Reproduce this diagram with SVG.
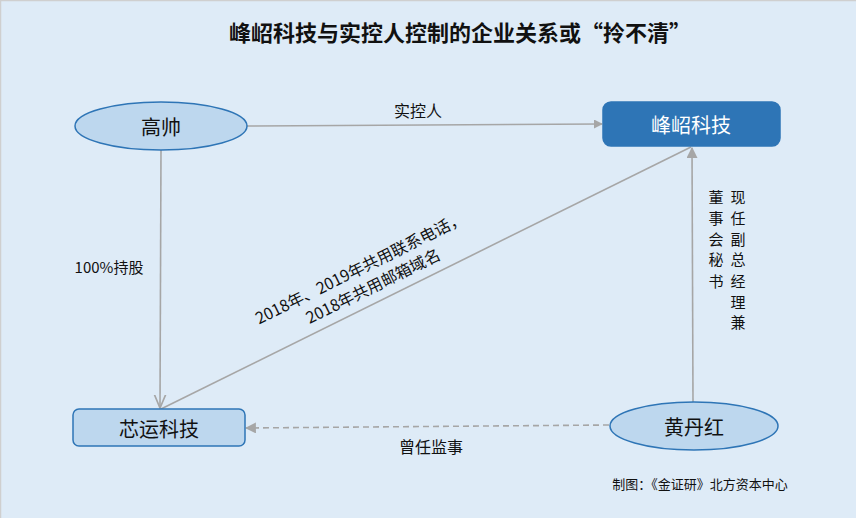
<svg xmlns="http://www.w3.org/2000/svg" width="856" height="518" viewBox="0 0 856 518">
<defs>
<style>
text{font-family:"Noto Sans CJK SC","Liberation Sans",sans-serif;fill:#111;}
.lbl{font-size:15px;}
.node-l{fill:#BDD7EE;stroke:#2E75B6;stroke-width:1.5;}
.node-d{fill:#2E75B6;stroke:#2E75B6;stroke-width:1.5;}
.nt{font-size:20px;text-anchor:middle;dominant-baseline:central;}
.edge{stroke:#A6A6A6;stroke-width:1.6;fill:none;}
</style>
<marker id="tri" viewBox="0 0 10 10" refX="9" refY="5" markerWidth="9" markerHeight="9" markerUnits="userSpaceOnUse" orient="auto"><path d="M0,0 L10,5 L0,10 z" fill="#A6A6A6"/></marker>
<marker id="tri2" viewBox="0 0 10 10" refX="9" refY="5" markerWidth="11" markerHeight="11" markerUnits="userSpaceOnUse" orient="auto"><path d="M0,0 L10,5 L0,10 z" fill="#A6A6A6"/></marker>
<marker id="open" viewBox="0 0 10 10" refX="9.5" refY="5" markerWidth="14" markerHeight="14" markerUnits="userSpaceOnUse" orient="auto"><path d="M0,1 L9.5,5 L0,9" fill="none" stroke="#A6A6A6" stroke-width="1.2"/></marker>
</defs>
<rect x="0" y="0" width="856" height="518" fill="#DEEBF7"/>
<path d="M0.5,518 V0.5 H856" fill="none" stroke="#CFCFCF" stroke-width="1.5"/>
<text x="460" y="41" font-size="22" font-weight="bold" text-anchor="middle">峰岹科技与实控人控制的企业关系或“拎不清”</text>
<g id="edges">
<line class="edge" x1="247" y1="126" x2="602" y2="124" marker-end="url(#tri)"/>
<line class="edge" x1="161" y1="150" x2="160" y2="408" marker-end="url(#open)"/>
<line class="edge" x1="161" y1="409" x2="691" y2="147"/>
<line class="edge" x1="693" y1="402" x2="692" y2="148" marker-end="url(#tri2)"/>
<line class="edge" x1="609" y1="425" x2="246" y2="428" stroke-dasharray="6,4" stroke-width="2" marker-end="url(#tri2)"/>
<text x="418" y="117" font-size="16" text-anchor="middle">实控人</text>
<text x="109" y="273" class="lbl" text-anchor="middle">100%持股</text>
<text x="431" y="453" font-size="16" text-anchor="middle">曾任监事</text>
<text transform="translate(360 268) rotate(-26.3)" x="0" y="6" font-size="16" text-anchor="middle">2018年、2019年共用联系电话，</text>
<text transform="translate(373 286) rotate(-26.3)" x="0" y="6" font-size="16" text-anchor="middle">2018年共用邮箱域名</text>
<g class="lbl" text-anchor="middle">
<text x="738" y="203">现</text><text x="738" y="224">任</text><text x="738" y="245">副</text><text x="738" y="265">总</text><text x="738" y="287">经</text><text x="738" y="308">理</text><text x="738" y="328">兼</text>
<text x="716" y="203">董</text><text x="716" y="224">事</text><text x="716" y="245">会</text><text x="716" y="265">秘</text><text x="716" y="287">书</text>
</g>
</g>
<g id="n-gaoshuai">
<ellipse class="node-l" cx="161" cy="126" rx="86" ry="24"/>
<text class="nt" x="161" y="126">高帅</text>
</g>
<g id="n-fengzhao">
<rect class="node-d" x="603" y="102" width="177" height="44" rx="8"/>
<text class="nt" x="691" y="124" style="fill:#fff">峰岹科技</text>
</g>
<g id="n-xinyun">
<rect class="node-l" x="73" y="409" width="172" height="37" rx="6"/>
<text class="nt" x="159" y="428">芯运科技</text>
</g>
<g id="n-huangdanhong">
<ellipse class="node-l" cx="694" cy="426" rx="84" ry="24"/>
<text class="nt" x="694" y="426">黄丹红</text>
</g>
<text x="700" y="489" font-size="13" text-anchor="middle" fill="#333">制图：《金证研》北方资本中心</text>
</svg>
